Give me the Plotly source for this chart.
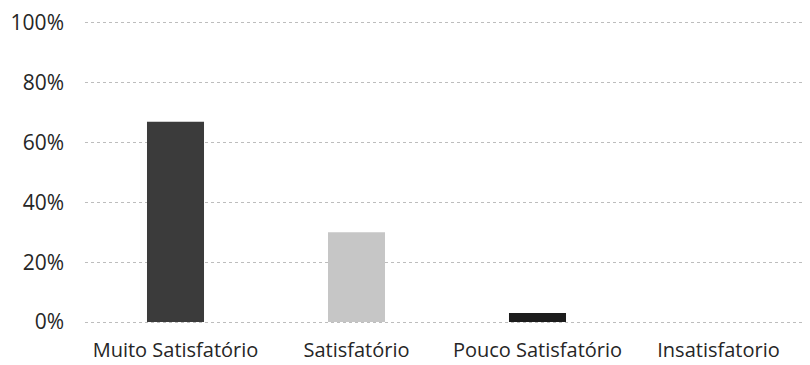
import plotly.graph_objects as go

categories = ["Muito Satisfatório", "Satisfatório", "Pouco Satisfatório", "Insatisfatorio"]
values = [0.67, 0.30, 0.03, 0.0]
bar_colors = ["#3b3b3b", "#c6c6c6", "#1c1c1c", "#888888"]
y_ticks = [0, 0.2, 0.4, 0.6, 0.8, 1.0]

fig = go.Figure()
fig.add_trace(go.Bar(
    x=categories,
    y=values,
    marker=dict(color=bar_colors, line=dict(width=0)),
    width=0.315,
))

# page body has an 8px margin, so the figure is a bit smaller than the window
fig.update_layout(
    width=802, height=357,
    margin=dict(l=77, r=1, t=12, b=40),
    paper_bgcolor="white",
    plot_bgcolor="white",
    showlegend=False,
    font=dict(family="Open Sans", size=20, color="#262626"),
)
fig.update_xaxes(showline=False, ticks="", ticklabelstandoff=11,
                 tickfont=dict(size=20))
fig.update_yaxes(range=[-0.01, 1.01], tickvals=y_ticks, tickformat=".0%",
                 showgrid=True, gridcolor="#bdbdbd", griddash="dot",
                 gridwidth=1, zeroline=False, showline=False,
                 ticklabelstandoff=20, tickfont=dict(size=21))

fig.write_html("out.html")
